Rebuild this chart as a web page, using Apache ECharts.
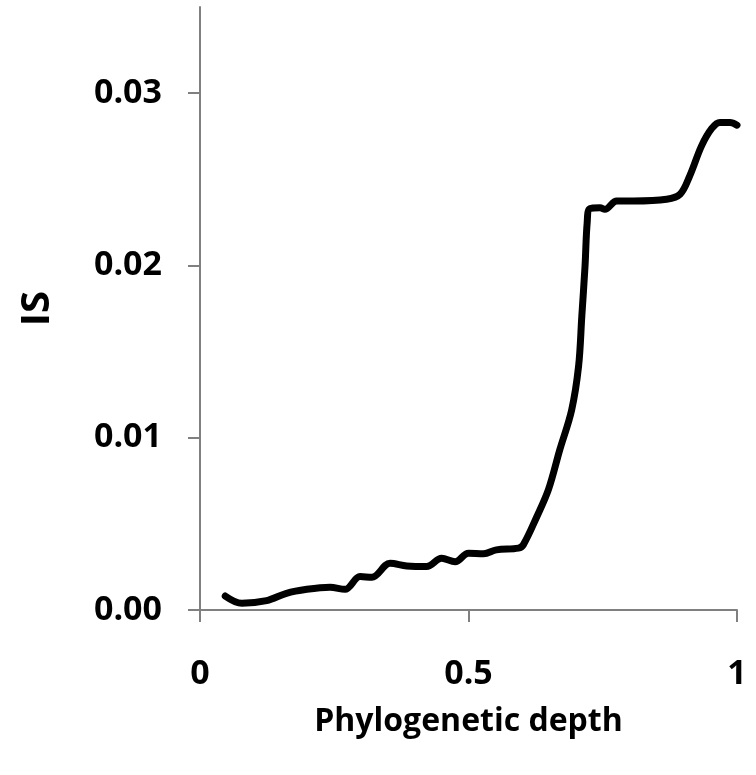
<!DOCTYPE html>
<html>
<head>
<meta charset="utf-8">
<script src="https://cdn.jsdelivr.net/npm/echarts@6/dist/echarts.min.js"></script>
<style>
  html, body { margin: 0; padding: 0; background: #fff; }
  #chart { width: 756px; height: 775px; }
</style>
</head>
<body>
<div id="chart"></div>
<script>
// phylogenetic depth (x) and IS (y)
const depth = [0.047, 0.078, 0.124, 0.161, 0.199, 0.242, 0.270, 0.298, 0.320, 0.354,
  0.385, 0.422, 0.450, 0.475, 0.500, 0.528, 0.552, 0.593, 0.602, 0.627,
  0.649, 0.670, 0.692, 0.705, 0.711, 0.717, 0.721, 0.726, 0.745, 0.754,
  0.776, 0.807, 0.869, 0.894, 0.912, 0.934, 0.953, 0.968, 0.987, 1.0];
const isValues = [0.00081, 0.00039, 0.00054, 0.00097, 0.0012, 0.00132, 0.0012, 0.00194, 0.0019, 0.00271,
  0.00256, 0.00252, 0.0030, 0.0028, 0.0033, 0.00326, 0.00349, 0.00359, 0.00378, 0.0054,
  0.0070, 0.0093, 0.0116, 0.01415, 0.01705, 0.01996, 0.02248, 0.0233, 0.02335, 0.02326,
  0.02374, 0.02374, 0.02384, 0.02413, 0.0252, 0.02694, 0.02795, 0.0283, 0.0283, 0.02814];
const yTicks = [0, 0.01, 0.02, 0.03];
const xTicks = [0, 0.5, 1];

const FONT = '"Open Sans", "Noto Sans", sans-serif';
const axisGray = '#808080';

const chart = echarts.init(document.getElementById('chart'));

chart.setOption({
  backgroundColor: '#fff',
  animation: false,
  grid: {
    left: 200,
    right: 19,
    top: 7,
    bottom: 165
  },
  xAxis: {
    type: 'value',
    min: 0,
    max: 1,
    interval: 0.5,
    name: 'Phylogenetic depth',
    nameLocation: 'middle',
    nameGap: 96,
    nameTextStyle: {
      color: '#000',
      fontFamily: FONT,
      fontWeight: 'bold',
      fontSize: 32
    },
    axisLine: { show: true, lineStyle: { color: axisGray, width: 2 } },
    axisTick: {
      show: true,
      length: 12,
      customValues: xTicks,
      lineStyle: { color: axisGray, width: 2 }
    },
    axisLabel: {
      customValues: xTicks,
      margin: 47,
      color: '#000',
      fontFamily: FONT,
      fontWeight: 'bold',
      fontSize: 34,
      formatter: v => String(v)
    },
    splitLine: { show: false }
  },
  yAxis: {
    type: 'value',
    min: 0,
    max: 0.035,
    interval: 0.01,
    name: 'IS',
    nameLocation: 'middle',
    nameRotate: 90,
    nameGap: 142,
    nameTextStyle: {
      color: '#000',
      fontFamily: FONT,
      fontWeight: 'bold',
      fontSize: 40
    },
    axisLine: { show: true, lineStyle: { color: axisGray, width: 2 } },
    axisTick: {
      show: true,
      length: 12,
      customValues: yTicks,
      lineStyle: { color: axisGray, width: 2 }
    },
    axisLabel: {
      customValues: yTicks,
      margin: 38,
      color: '#000',
      fontFamily: FONT,
      fontWeight: 'bold',
      fontSize: 34,
      formatter: v => v.toFixed(2)
    },
    splitLine: { show: false }
  },
  series: [{
    type: 'line',
    data: depth.map((d, i) => [d, isValues[i]]),
    showSymbol: false,
    smooth: 0.35,
    lineStyle: { color: '#000', width: 7, cap: 'round', join: 'round' }
  }]
});
</script>
</body>
</html>
